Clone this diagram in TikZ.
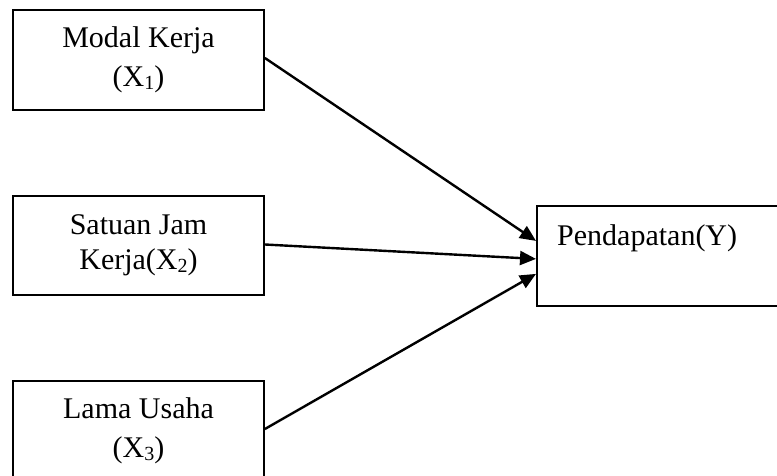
\documentclass[tikz,border=0pt]{standalone}
\usepackage{fontspec}
\setmainfont{Liberation Serif}
\usetikzlibrary{arrows.meta}
\newcommand{\mysub}[1]{\raisebox{-0.2ex}{\fontsize{20}{20}\selectfont #1}}
\begin{document}
\begin{tikzpicture}[x=1pt,y=-1pt,
  varbox/.style={draw=black,line width=1.8pt,minimum width=251pt,minimum height=100pt,
    align=center,inner sep=0pt,font=\fontsize{30}{39}\selectfont},
  lbl/.style={font=\fontsize{30}{38}\selectfont,inner sep=0pt},
  conn/.style={line width=2.4pt,-{Triangle[length=16pt,width=14pt]}}]
\clip (0,0) rectangle (777,476);
\fill[white] (0,0) rectangle (777,476);
\node[varbox] (x1) at (138.5,60) {Modal Kerja\\(X\mysub{1})};
\node[varbox,minimum height=99pt,font=\fontsize{30}{35}\selectfont] (x2) at (138.5,245.5) {Satuan Jam\\Kerja(X\mysub{2})};
\node[varbox] (x3) at (138.5,431) {Lama Usaha\\(X\mysub{3})};
\node[draw=black,line width=1.8pt,minimum width=260pt,minimum height=100pt,inner sep=0pt,anchor=north west] (y) at (536,205) {};
\node[lbl,anchor=base west] (ylbl) at (557,245) {Pendapatan(Y)};
\draw[conn] ([yshift=2pt]x1.east) -- ([yshift=15pt]y.west);
\draw[conn] ([yshift=1pt]x2.east) -- ([yshift=-3pt]y.west);
\draw[conn] ([yshift=2pt]x3.east) -- ([yshift=-18pt]y.west);
\end{tikzpicture}
\end{document}
